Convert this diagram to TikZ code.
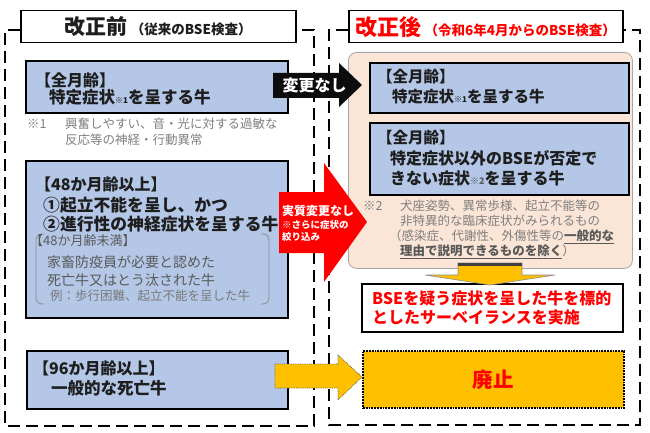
\documentclass[tikz,border=0pt]{standalone}
\usepackage{fontspec}
\setmainfont{Noto Sans CJK JP}
\usetikzlibrary{positioning}
\definecolor{boxblue}{RGB}{180,199,231}
\definecolor{peach}{RGB}{251,229,214}
\definecolor{gold}{RGB}{255,192,0}
\definecolor{alarm}{RGB}{255,0,0}
\definecolor{notegray}{RGB}{127,127,127}
\definecolor{subgray}{RGB}{89,89,89}
\definecolor{inkdark}{RGB}{30,30,30}
\newcommand{\fsz}[1]{\fontsize{#1}{#1}\selectfont}

\begin{document}
\begin{tikzpicture}[x=1pt,y=-1pt,every node/.style={inner sep=0pt}]
  \tikzstyle{frame}=[dash pattern=on 12pt off 6pt,line width=1.8pt]
  \tikzstyle{titlebox}=[draw,line width=1.5pt,fill=white,anchor=north west,font=\bfseries]
  \tikzstyle{cattle}=[draw,line width=2pt,fill=boxblue,anchor=north west]
  \tikzstyle{lbl}=[anchor=west,text=inkdark,font={\bfseries\fsz{16}}]
  \tikzstyle{note}=[anchor=west,text=notegray,font={\fsz{12.5}}]
  \tikzstyle{sub}=[anchor=west,text=subgray,font={\fsz{14}}]
  \tikzstyle{redtxt}=[anchor=west,text=alarm,font={\bfseries\fsz{16}}]
  \useasboundingbox (0,0) rectangle (650,433);

  % -- dashed frames --
  \draw[frame] (20,30) -- (5,30) -- (5,426) -- (314,426) -- (314,30) -- (295,30);
  \draw[frame] (348,30) -- (329,30) -- (329,425) -- (640,425) -- (640,30) -- (622,30);

  % -- titles --
  \node[titlebox,minimum width=275,minimum height=32,text=inkdark] (before) at (20,10)
    {{\fsz{21}改正前}\kern3pt{\fsz{13.5}（従来のBSE検査）}};
  \node[titlebox,minimum width=274,minimum height=32,text=alarm] (after) at (348,10)
    {{\fsz{22}改正後}\kern3pt{\fsz{13.5}（令和6年4月からのBSE検査）}};

  % -- left column: before --
  \node[cattle,minimum width=262,minimum height=52] (allL) at (25,60) {};
  \node[lbl] (allLa) at (35,80) {【全月齢】};
  \node[lbl,font={\bfseries\fsz{16.5}}] (allLb) at (49,97) {特定症状{\fsz{8}※1}を呈する牛};
  \node[note] (nt1a) at (27,124) {※1};
  \node[note] (nt1b) at (65,124) {興奮しやすい、音・光に対する過敏な};
  \node[note] (nt1c) at (65,140) {反応等の神経・行動異常};

  \node[cattle,minimum width=262,minimum height=157] (over48) at (25,160) {};
  \node[lbl] (over48a) at (35,184) {【48か月齢以上】};
  \node[lbl,font={\bfseries\fsz{16.8}}] (over48b) at (43,205) {①起立不能を呈し、かつ};
  \node[lbl,font={\bfseries\fsz{16.8}}] (over48c) at (43,224) {②進行性の神経症状を呈する牛};
  \draw[subgray!70,line width=0.8pt,rounded corners=6] (44,234) -- (36,234) -- (36,304) -- (44,304);
  \draw[subgray!70,line width=0.8pt,rounded corners=6] (261,234) -- (269,234) -- (269,304) -- (261,304);
  \node[sub,font={\fsz{13}}] (under48a) at (30,241) {【48か月齢未満】};
  \node[sub] (under48b) at (47,262) {家畜防疫員が必要と認めた};
  \node[sub] (under48c) at (47,280) {死亡牛又はとう汰された牛};
  \node[note,text=subgray!80] (under48d) at (50,296) {例：歩行困難、起立不能を呈した牛};

  \node[cattle,minimum width=261,minimum height=58] (over96) at (26,350) {};
  \node[lbl] (over96a) at (33,368) {【96か月齢以上】};
  \node[lbl,font={\bfseries\fsz{16.5}}] (over96b) at (51,388) {一般的な死亡牛};

  % -- right column: after --
  \node[draw=black!35,line width=0.8pt,fill=peach,rounded corners=8,anchor=north west,
    minimum width=284,minimum height=216] (zone) at (348,52) {};
  \node[cattle,minimum width=259,minimum height=50] (allR) at (369,62) {};
  \node[lbl,font={\bfseries\fsz{15.5}}] (allRa) at (377,77) {【全月齢】};
  \node[lbl,font={\bfseries\fsz{15.5}}] (allRb) at (392,97) {特定症状{\fsz{8}※1}を呈する牛};
  \node[cattle,minimum width=259,minimum height=72] (otherR) at (369,122) {};
  \node[lbl,font={\bfseries\fsz{15.5}}] (otherRa) at (377,138) {【全月齢】};
  \node[lbl] (otherRb) at (390,158) {特定症状以外のBSEが否定で};
  \node[lbl] (otherRc) at (390,178) {きない症状{\fsz{9}\color{subgray}※2}を呈する牛};
  \node[note] (nt2a) at (363,206) {※2};
  \node[note] (nt2b) at (400,206) {犬座姿勢、異常歩様、起立不能等の};
  \node[note] (nt2c) at (400,221) {非特異的な臨床症状がみられるもの};
  \node[note] (nt2d) at (389,237) {（感染症、代謝性、外傷性等の{\bfseries\color{subgray}\underline{一般的な}}};
  \node[note] (nt2e) at (400,252) {{\bfseries\color{subgray}\underline{理由で説明できるものを除く}}）};

  \node[draw,line width=1.5pt,fill=white,anchor=north west,minimum width=261,minimum height=48] (target) at (361,283) {};
  \node[redtxt] (targeta) at (372,298) {BSEを疑う症状を呈した牛を標的};
  \node[redtxt] (targetb) at (372,317) {としたサーベイランスを実施};
  \node[draw,densely dotted,line width=1.8pt,fill=gold,anchor=north west,minimum width=261,minimum height=57] (abol) at (362,350) {};
  \node[text=alarm,font={\bfseries\fsz{20.5}}] (abolt) at (abol.center) {廃止};

  % -- block arrows --
  \fill[black!95] (273,73) -- (339,73) -- (339,63) -- (362,85) -- (339,107) -- (339,98) -- (273,98) -- cycle;
  \node[text=white,font={\bfseries\fsz{16}}] (same) at (314.5,85) {変更なし};
  \fill[alarm] (279,192) -- (324,192) -- (324,163) -- (367,222) -- (324,282) -- (324,253) -- (279,253) -- cycle;
  \node[anchor=west,text=white,font={\bfseries\fsz{12}}] (samered) at (282,211) {実質変更なし};
  \node[anchor=west,text=white,font={\bfseries\fsz{9.5}}] (samereda) at (282,225) {※さらに症状の};
  \node[anchor=west,text=white,font={\bfseries\fsz{9.5}}] (sameredb) at (282,237) {絞り込み};
  \filldraw[fill=gold,draw=black!45,line width=0.6pt] (458,263) -- (522,263) -- (522,275) -- (555,275)
    -- (490,285) -- (425,275) -- (458,275) -- cycle;
  \draw[line width=3pt,black!75] (458,264.5) -- (522,264.5);
  \filldraw[fill=gold,draw=black!60,densely dotted,line width=0.8pt] (275,364) -- (338,364) -- (338,355)
    -- (362,377) -- (338,400) -- (338,388) -- (275,388) -- cycle;
\end{tikzpicture}
\end{document}
